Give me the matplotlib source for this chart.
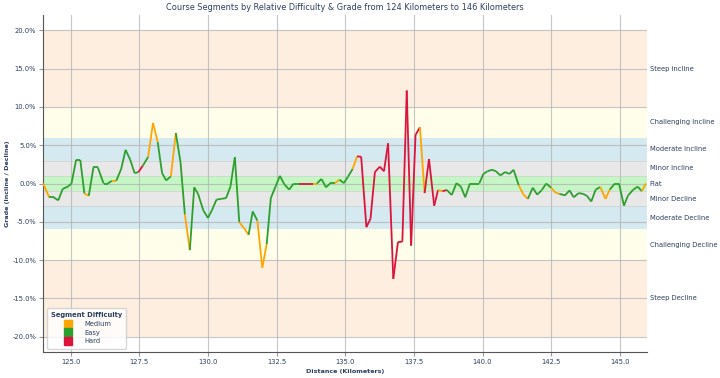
import numpy as np
import matplotlib
matplotlib.use("Agg")
import matplotlib.pyplot as plt
from matplotlib.lines import Line2D

# distance [km], grade [%] and difficulty of the segment that starts at each point
distance_km = [
    124.0, 124.22, 124.38, 124.55, 124.71, 124.9, 125.03, 125.2, 125.35, 125.5,
    125.66, 125.83, 125.99, 126.2, 126.35, 126.5, 126.66, 126.84, 127.0, 127.17,
    127.33, 127.47, 127.63, 127.82, 128.0, 128.17, 128.33, 128.48, 128.65, 128.83,
    129.0, 129.16, 129.34, 129.5, 129.64, 129.83, 130.0, 130.15, 130.31, 130.49,
    130.66, 130.82, 130.98, 131.14, 131.33, 131.48, 131.63, 131.8, 131.98, 132.14,
    132.29, 132.46, 132.62, 132.78, 132.96, 133.12, 133.3, 133.48, 133.65, 133.81,
    133.97, 134.13, 134.3, 134.46, 134.62, 134.79, 134.95, 135.1, 135.27, 135.43,
    135.58, 135.77, 135.92, 136.08, 136.26, 136.41, 136.56, 136.75, 136.92, 137.08,
    137.24, 137.4, 137.56, 137.72, 137.89, 138.05, 138.24, 138.38, 138.54, 138.7,
    138.88, 139.05, 139.21, 139.37, 139.54, 139.7, 139.88, 140.03, 140.18, 140.34,
    140.49, 140.65, 140.82, 140.98, 141.13, 141.32, 141.49, 141.65, 141.83, 141.99,
    142.16, 142.32, 142.5, 142.66, 142.8, 143.0, 143.17, 143.32, 143.5, 143.66,
    143.8, 143.96, 144.12, 144.29, 144.48, 144.63, 144.82, 144.97, 145.15, 145.3,
    145.49, 145.65, 145.8, 145.95,
]
grade_pct = [
    0.0, -1.8, -1.8, -2.2, -0.7, -0.4, 0.0, 3.1, 3.1, -1.3,
    -1.6, 2.1, 2.1, 0.0, 0.0, 0.35, 0.35, 1.9, 4.4, 3.1,
    1.35, 1.5, 2.35, 3.45, 7.9, 5.4, 1.35, 0.4, 0.95, 6.6,
    2.8, -4.05, -8.7, -0.5, -1.35, -3.5, -4.5, -3.45, -2.1, -2.0,
    -1.9, -0.4, 3.45, -5.05, -5.9, -6.7, -3.65, -4.85, -11.0, -7.9,
    -1.9, -0.4, 1.0, -0.1, -0.8, 0.0, 0.0, 0.0, 0.0, 0.0,
    0.0, 0.6, -0.5, 0.05, 0.05, 0.5, 0.05, 0.9, 1.9, 3.55,
    3.5, -5.7, -4.6, 1.5, 2.2, 1.6, 5.25, -12.45, -7.65, -7.6,
    12.15, -8.1, 6.35, 7.35, -1.25, 3.2, -2.9, -0.85, -1.0, -0.85,
    -1.5, 0.05, -0.4, -1.8, 0.0, 0.0, 0.0, 1.25, 1.6, 1.8,
    1.6, 1.05, 1.5, 1.25, 1.8, -0.25, -1.45, -2.0, -0.55, -1.45,
    -0.85, 0.0, -0.55, -1.2, -1.35, -1.55, -0.9, -1.8, -1.25, -1.35,
    -1.6, -2.35, -0.8, -0.45, -2.0, -0.8, 0.0, 0.0, -2.9, -1.55,
    -0.8, -0.4, -1.0, 0.0,
]
difficulty = (
    "MEEEEEEEEM" "EEEEEMEEEE" "EHEMMEEEME" "EMEEEEEEEE"
    "EEEMMEEMME" "EEEEEEHHHM" "EEEEMEEEMH" "HHHHHHHHHH"
    "HHHMHHHMHE" "EEEEEEEEEE" "EEEEEMMEEE" "EEMMEEEEEE"
    "EEEMMEEEEE" "EEM"
)
difficulty_names = {"M": "Medium", "E": "Easy", "H": "Hard"}
difficulty_colors = {"Medium": "#FFA500", "Easy": "#2ca02c", "Hard": "#DC143C"}

# background grade bands
band_low = [10, 6, 3, 1, -1, -3, -6, -10, -20]
band_high = [20, 10, 6, 3, 1, -1, -3, -6, -10]
band_colors = ["#fdeee0", "#fffeeb", "#d5e9f0", "#e8e8e8", "#c6f5c6",
               "#e8e8e8", "#d5e9f0", "#fffeeb", "#fdeee0"]
band_labels = ["Steep Incline", "Challenging Incline", "Moderate Incline",
               "Minor Incline", "Flat", "Minor Decline", "Moderate Decline",
               "Challenging Decline", "Steep Decline"]
band_label_y = [15, 8, 4.5, 2, 0, -2, -4.5, -8, -15]

TXT = "#2a3f5f"
FS = 4.9

fig = plt.figure(figsize=(7.2, 3.78), dpi=100)
ax = fig.add_axes([0.06, 0.069, 0.839, 0.891])

for lo, hi, c in zip(band_low, band_high, band_colors):
    ax.axhspan(lo, hi, color=c, lw=0, zorder=0)
for yy in [3, -3, 1, -1]:
    ax.axhline(yy, color="#c8c8c8", lw=0.6, alpha=0.6, zorder=0.5)

# line coloured segment by segment
for i in range(len(distance_km) - 1):
    name = difficulty_names[difficulty[i]]
    ax.plot(distance_km[i:i + 2], grade_pct[i:i + 2],
            color=difficulty_colors[name], lw=1.3, zorder=3,
            solid_capstyle="butt")

ax.set_xlim(124, 146)
ax.set_ylim(-22, 22)
ax.set_xticks(np.arange(125, 146, 2.5))
ax.set_xticklabels([f"{v:.1f}" for v in np.arange(125, 146, 2.5)])
ax.set_yticks(np.arange(-20, 21, 5))
ax.set_yticklabels([f"{v:.1f}%" for v in np.arange(-20, 21, 5)])
ax.tick_params(labelsize=FS, colors="#999999", labelcolor=TXT, length=3, pad=2)
ax.grid(True, color="#b0b0b0", lw=0.8, alpha=0.7, zorder=1)
ax.set_axisbelow(True)
for s in ["top", "right"]:
    ax.spines[s].set_visible(False)
for s in ["left", "bottom"]:
    ax.spines[s].set_color("#555555")

for lab, yy in zip(band_labels, band_label_y):
    ax.text(1.004, yy, lab, transform=ax.get_yaxis_transform(),
            va="center", ha="left", fontsize=FS, color=TXT)

ax.set_title("Course Segments by Relative Difficulty & Grade from 124 Kilometers to 146 Kilometers",
             fontsize=5.9, color=TXT, pad=4)
ax.set_xlabel("Distance (Kilometers)", fontsize=4.6, fontweight="bold", color=TXT, labelpad=3)
ax.set_ylabel("Grade (Incline / Decline)", fontsize=4.6, fontweight="bold", color=TXT, labelpad=2)

handles = [Line2D([], [], marker="s", ls="", markersize=6, color=difficulty_colors[n], label=n)
           for n in ["Medium", "Easy", "Hard"]]
leg = ax.legend(handles=handles, title="Segment Difficulty", loc="lower left",
                fontsize=FS, title_fontsize=FS, frameon=True, borderpad=0.6,
                handletextpad=1.5, labelspacing=0.4, bbox_to_anchor=(0.0, 0.0))
leg.get_title().set_fontweight("bold")
leg.get_title().set_color(TXT)
for t in leg.get_texts():
    t.set_color(TXT)

fig.savefig("out.png", dpi=100)
